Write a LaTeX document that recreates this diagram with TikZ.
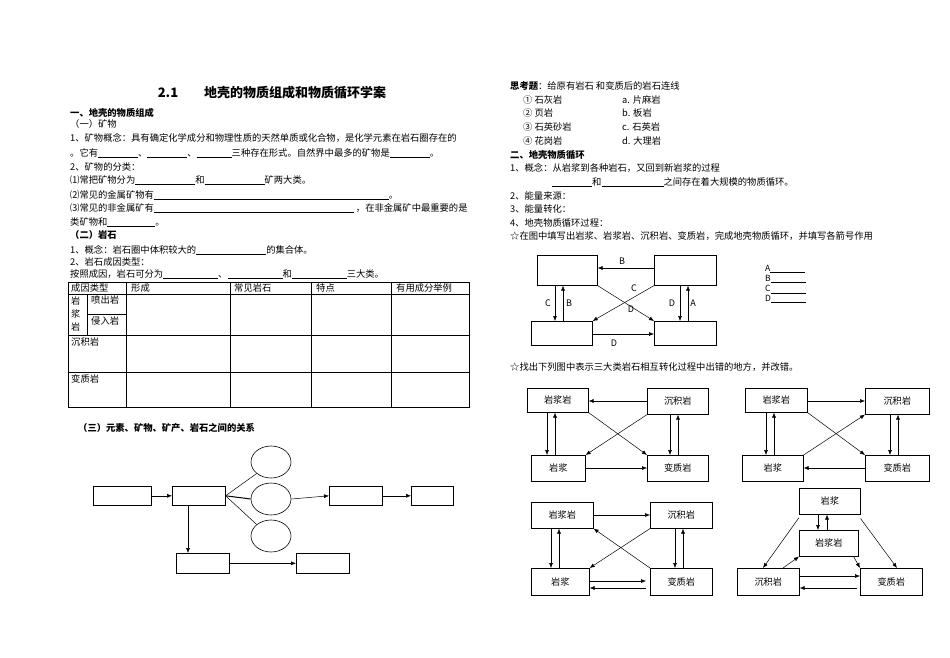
\documentclass[tikz,border=0pt]{standalone}
\usepackage{fontspec}
\setmainfont{Noto Sans CJK SC}
\usetikzlibrary{arrows.meta,shapes.geometric}
\newcommand{\bl}[1]{\rule[-1.5pt]{#1pt}{0.4pt}}
\begin{document}
\begin{tikzpicture}[x=1pt,y=-1pt,
  txt/.style={anchor=west,inner sep=0,font=\fontsize{9.3}{11}\selectfont},
  hd/.style={txt,font=\fontsize{9.3}{11}\selectfont\bfseries},
  bx/.style={draw,line width=0.6pt,anchor=north west,inner sep=0,font=\fontsize{9.2}{11}\selectfont},
  ell/.style={draw,line width=0.6pt,ellipse,minimum width=40pt,minimum height=32pt,inner sep=0},
  arr/.style={line width=0.5pt,-{Latex[length=5pt,width=4pt]}},
  ln/.style={line width=0.5pt},
  lab/.style={inner sep=0,font=\fontsize{9}{10}\selectfont}]
\useasboundingbox (0,0) rectangle (950,658);
% ---------------- left column
\node[inner sep=0,font=\fontsize{13}{15}\selectfont\bfseries] (title) at (272,93) {2.1\hspace{2em}地壳的物质组成和物质循环学案};
\node[hd] (l1) at (70,113) {一、地壳的物质组成};
\node[txt] (l2) at (70,124) {（一）矿物};
\node[txt] (l3) at (70,138) {1、矿物概念：具有确定化学成分和物理性质的天然单质或化合物，是化学元素在岩石圈存在的};
\node[txt] (l4) at (70,153) {。它有\bl{40}、\bl{40}、\bl{35}三种存在形式。自然界中最多的矿物是\bl{40}。};
\node[txt] (l5) at (70,167) {2、矿物的分类：};
\node[txt] (l6) at (70,180) {⑴常把矿物分为\bl{60}和\bl{60}矿两大类。};
\node[txt] (l7) at (70,195) {⑵常见的金属矿物有\bl{235}。};
\node[txt] (l8) at (70,208) {⑶常见的非金属矿有\bl{200}\ ，在非金属矿中最重要的是};
\node[txt] (l9) at (70,222) {类矿物和\bl{48}。};
\node[hd] (l10) at (70,235) {（二）岩石};
\node[txt] (l11) at (70,250) {1、概念：岩石圈中体积较大的\bl{70}的集合体。};
\node[txt] (l12) at (70,262) {2、岩石成因类型：};
\node[txt] (l13) at (70,274) {按照成因，岩石可分为\bl{55}、\bl{55}和\bl{55}三大类。};
% table
\draw[line width=0.6pt] (68,282) rectangle (469,407);
\foreach \y in {294,335,372} \draw[line width=0.5pt] (68,\y) -- (469,\y);
\draw[line width=0.5pt] (87,314) -- (126,314);
\draw[line width=0.5pt] (87,294) -- (87,335);
\foreach \x in {126,230,311,391} \draw[line width=0.5pt] (\x,282) -- (\x,407);
\node[txt] (t1) at (71,288) {成因类型};
\node[txt] (t2) at (131,288) {形成};
\node[txt] (t3) at (234,288) {常见岩石};
\node[txt] (t4) at (316,288) {特点};
\node[txt] (t5) at (396,288) {有用成分举例};
\node[txt,align=center,font=\fontsize{9.2}{13}\selectfont] (t6) at (71,314) {岩\\浆\\岩};
\node[txt] (t7) at (91,300) {喷出岩};
\node[txt] (t8) at (91,321) {侵入岩};
\node[txt] (t9) at (71,342) {沉积岩};
\node[txt] (t10) at (71,379) {变质岩};
\node[hd] (l14) at (78,428) {（三）元素、矿物、矿产、岩石之间的关系};
% flow diagram
\node[bx,minimum width=58pt,minimum height=19pt] (f1) at (93,486) {};
\node[bx,minimum width=53pt,minimum height=19pt] (f2) at (172,486) {};
\node[ell] (e1) at (271,462) {};
\node[ell] (e2) at (271,499) {};
\node[ell] (e3) at (271,536) {};
\node[bx,minimum width=53pt,minimum height=19pt] (f3) at (329,486) {};
\node[bx,minimum width=42pt,minimum height=19pt] (f4) at (411,486) {};
\node[bx,minimum width=53pt,minimum height=20pt] (f5) at (176,553) {};
\node[bx,minimum width=53pt,minimum height=20pt] (f6) at (296,553) {};
\draw[arr] (f1.east) -- (f2.west);
\coordinate (fj) at (f2.east);
\draw[ln] (fj) -- (e1.south west);
\draw[ln,line width=1pt] (fj) -- (e2.west);
\draw[ln] (fj) -- (e3.north west);
\draw[arr] (e2.east) -- (f3.west);
\draw[arr] (f3.east) -- (f4.west);
\draw[arr] (f2.south -| 188,0) -- (f5.north -| 188,0);
\draw[arr] (f5.east) -- (f6.west);
% ---------------- right column
\node[txt] (r1) at (510,86) {\textbf{思考题}：给原有岩石 和变质后的岩石连线};
\node[txt] (r2) at (523,100) {① 石灰岩};
\node[txt] (r3) at (523,113) {② 页岩};
\node[txt] (r4) at (523,127) {③ 石英砂岩};
\node[txt] (r5) at (523,141) {④ 花岗岩};
\node[txt] (r6) at (622,100) {a. 片麻岩};
\node[txt] (r7) at (622,113) {b. 板岩};
\node[txt] (r8) at (622,127) {c. 石英岩};
\node[txt] (r9) at (622,141) {d. 大理岩};
\node[hd] (r10) at (510,155) {二、地壳物质循环};
\node[txt] (r11) at (510,168) {1、概念：从岩浆到各种岩石，又回到新岩浆的过程};
\node[txt] (r12) at (552,182) {\bl{40}和\bl{62}之间存在着大规模的物质循环。};
\node[txt] (r13) at (510,196) {2、能量来源：};
\node[txt] (r14) at (510,209) {3、能量转化：};
\node[txt] (r15) at (510,223) {4、地壳物质循环过程：};
\node[txt] (r16) at (510,236) {☆在图中填写出岩浆、岩浆岩、沉积岩、变质岩，完成地壳物质循环，并填写各箭号作用};
% diagram A
\node[bx,minimum width=60pt,minimum height=30pt] (atl) at (537,255) {};
\node[bx,minimum width=62pt,minimum height=30pt] (atr) at (654,255) {};
\node[bx,minimum width=61pt,minimum height=24pt] (abl) at (531,321) {};
\node[bx,minimum width=62pt,minimum height=24pt] (abr) at (654,321) {};
\draw[arr] (atr.west |- 0,268) -- (atl.east |- 0,268);
\draw[arr] (atl.south -| 555,0) -- (abl.north -| 555,0);
\draw[arr] (abl.north -| 563,0) -- (atl.south -| 563,0);
\draw[arr] (atr.south -| 680,0) -- (abr.north -| 680,0);
\draw[arr] (abr.north -| 688,0) -- (atr.south -| 688,0);
\draw[arr] (atl.south east) -- (abr.north west);
\draw[arr] (atr.south west) -- (abl.north east);
\draw[arr] (abl.east |- 0,334) -- (abr.west |- 0,334);
\node[lab] (aB1) at (622,261) {B};
\node[lab] (aC1) at (548,303) {C};
\node[lab] (aB2) at (569,303) {B};
\node[lab] (aD1) at (672,303) {D};
\node[lab] (aA1) at (693,303) {A};
\node[lab] (aC2) at (634,288) {C};
\node[lab] (aD2) at (631,309) {D};
\node[lab] (aD3) at (614,343) {D};
\node[txt,font=\fontsize{8.5}{10}\selectfont] (lA) at (765,269) {A\bl{35}};
\node[txt,font=\fontsize{8.5}{10}\selectfont] (lB) at (765,279) {B\bl{35}};
\node[txt,font=\fontsize{8.5}{10}\selectfont] (lC) at (765,289) {C\bl{35}};
\node[txt,font=\fontsize{8.5}{10}\selectfont] (lD) at (765,299) {D\bl{35}};
\node[txt] (r17) at (510,367) {☆找出下列图中表示三大类岩石相互转化过程中出错的地方，并改错。};
% diagram B1
\node[bx,minimum width=61pt,minimum height=24pt] (p1) at (527,388) {岩浆岩};
\node[bx,minimum width=61pt,minimum height=26pt] (p2) at (647,388) {沉积岩};
\node[bx,minimum width=54pt,minimum height=26pt] (p3) at (531,455) {岩浆};
\node[bx,minimum width=61pt,minimum height=26pt] (p4) at (647,455) {变质岩};
\draw[arr] (p2.west |- 0,401) -- (p1.east |- 0,401);
\draw[arr] (p1.south -| 547,0) -- (p3.north -| 547,0);
\draw[arr] (p3.north -| 555,0) -- (p1.south -| 555,0);
\draw[arr] (p2.south -| 670,0) -- (p4.north -| 670,0);
\draw[arr] (p4.north -| 678,0) -- (p2.south -| 678,0);
\draw[arr] (p1.south east) -- (p4.north west);
\draw[arr] (p2.south west) -- (p3.north east);
\draw[arr] (p3.east |- 0,468) -- (p4.west |- 0,468);
% diagram B2
\node[bx,minimum width=62pt,minimum height=24pt] (q1) at (745,388) {岩浆岩};
\node[bx,minimum width=64pt,minimum height=26pt] (q2) at (865,388) {沉积岩};
\node[bx,minimum width=61pt,minimum height=26pt] (q3) at (742,455) {岩浆};
\node[bx,minimum width=64pt,minimum height=26pt] (q4) at (865,455) {变质岩};
\draw[arr] (q1.east |- 0,401) -- (q2.west |- 0,401);
\draw[arr] (q1.south -| 766,0) -- (q3.north -| 766,0);
\draw[arr] (q3.north -| 774,0) -- (q1.south -| 774,0);
\draw[arr] (q2.south -| 890,0) -- (q4.north -| 890,0);
\draw[arr] (q4.north -| 898,0) -- (q2.south -| 898,0);
\draw[arr] (q1.south east) -- (q4.north west);
\draw[arr] (q3.north east) -- (q2.south west);
\draw[arr] (q4.west |- 0,468) -- (q3.east |- 0,468);
% diagram B3
\node[bx,minimum width=62pt,minimum height=26pt] (s1) at (531,502) {岩浆岩};
\node[bx,minimum width=62pt,minimum height=26pt] (s2) at (650,502) {沉积岩};
\node[bx,minimum width=58pt,minimum height=27pt] (s3) at (531,568) {岩浆};
\node[bx,minimum width=62pt,minimum height=27pt] (s4) at (650,568) {变质岩};
\draw[arr] (s1.east |- 0,515) -- (s2.west |- 0,515);
\draw[arr] (s1.south -| 551,0) -- (s3.north -| 551,0);
\draw[arr] (s3.north -| 559,0) -- (s1.south -| 559,0);
\draw[arr] (s2.south -| 675,0) -- (s4.north -| 675,0);
\draw[arr] (s4.north -| 683,0) -- (s2.south -| 683,0);
\draw[arr] (s4.north west) -- (s1.south east);
\draw[arr] (s2.south west) -- (s3.north east);
\draw[arr] (s3.east |- 0,581) -- ([xshift=-4pt]s4.west |- 0,581);
\draw[arr] ([xshift=-4pt]s4.west |- 0,588) -- (s3.east |- 0,588);
% diagram B4
\node[bx,minimum width=61pt,minimum height=26pt] (u1) at (799,488) {岩浆};
\node[bx,minimum width=59pt,minimum height=26pt] (u2) at (799,530) {岩浆岩};
\node[bx,minimum width=62pt,minimum height=27pt] (u3) at (737,568) {沉积岩};
\node[bx,minimum width=62pt,minimum height=27pt] (u4) at (860,568) {变质岩};
\draw[arr] (u1.south -| 818,0) -- (u2.north -| 818,0);
\draw[arr] (u2.north -| 827,0) -- (u1.south -| 827,0);
\draw[arr] ([yshift=-3pt]u1.south west) -- (u3.north -| 763,0);
\draw[arr] ([yshift=-4pt]u1.south east) -- (u4.north -| 897,0);
\draw[arr] (u3.north -| 783,0) -- (u2.south west);
\draw[arr] ([xshift=-5pt]u2.south east) -- (u4.north west);
\draw[arr] (u3.east |- 0,576) -- (u4.west |- 0,576);
\draw[arr] ([xshift=-3pt]u4.west |- 0,588) -- (u3.east |- 0,588);
\end{tikzpicture}
\end{document}
